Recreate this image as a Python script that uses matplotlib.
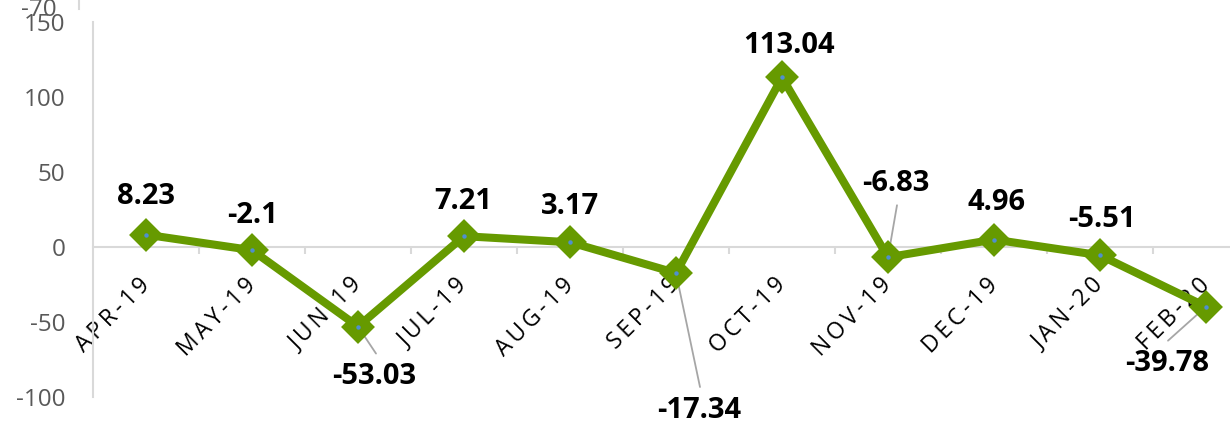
import matplotlib
matplotlib.use("Agg")
import matplotlib.pyplot as plt
from matplotlib.lines import Line2D

months = ["APR-19", "MAY-19", "JUN-19", "JUL-19", "AUG-19", "SEP-19",
          "OCT-19", "NOV-19", "DEC-19", "JAN-20", "FEB-20"]
values = [8.23, -2.1, -53.03, 7.21, 3.17, -17.34, 113.04, -6.83, 4.96, -5.51, -39.78]
value_labels = ["8.23", "-2.1", "-53.03", "7.21", "3.17", "-17.34",
                "113.04", "-6.83", "4.96", "-5.51", "-39.78"]
yticks = [-100, -50, 0, 50, 100, 150]

# label offsets in pixels (text centre relative to point)
label_offsets = [(0, 38), (1, 35), (16, -50), (-1, 35), (0, 36), (23, -137),
                 (7, 32), (8, 74), (2, 37), (2, 36), (-39, -57)]
# leader lines: index -> end offset in pixels
leaders = {2: (18, -27), 5: (24, -114), 7: (9, 52), 10: (-38, -34)}

W, H = 1230, 423
fig = plt.figure(figsize=(W / 100, H / 100), dpi=100)
left = 93 / W
bottom = 1 - 397 / H
width = 11 * 106 / W
height = 375 / H
ax = fig.add_axes([left, bottom, width, height])

x = list(range(len(values)))
green = "#669a00"
ax.plot(x, values, color=green, lw=5.8, marker="D", ms=14, mfc=green, mec=green,
        mew=3, solid_joinstyle="round", zorder=3)
ax.plot(x, values, ls="none", marker="o", ms=2.2, color="#4f8fd0", zorder=4)

ax.set_xlim(-0.5, len(values) - 0.5)
ax.set_ylim(-100, 150)
ax.set_yticks(yticks)
ax.set_yticklabels([str(v) for v in yticks])

for s in ["top", "right"]:
    ax.spines[s].set_visible(False)
ax.spines["bottom"].set_position(("data", 0))
ax.spines["bottom"].set_color("#d9d9d9")
ax.spines["bottom"].set_linewidth(1.5)
ax.spines["left"].set_color("#d9d9d9")
ax.spines["left"].set_linewidth(1.5)

label_font = dict(family=["Open Sans", "DejaVu Sans"])
ax.tick_params(axis="y", length=0, pad=20, labelsize=17.5, labelcolor="#595959")
for t in ax.get_yticklabels():
    t.set_fontfamily(["Open Sans", "DejaVu Sans"])

ax.set_xticks(x)
spaced = ["\u2009".join(list(m)) for m in months]
ax.set_xticklabels(spaced, rotation=45, ha="right", va="center",
                   rotation_mode="anchor", fontsize=16.5, color="#000000")
for t in ax.get_xticklabels():
    t.set_fontfamily(["Open Sans", "DejaVu Sans"])
ax.tick_params(axis="x", which="major", length=0, pad=25)
ax.set_xticks([i + 0.5 for i in x], minor=True)
ax.tick_params(axis="x", which="minor", length=5, width=1.5, color="#d9d9d9", direction="out")

for i, (v, lab) in enumerate(zip(values, value_labels)):
    dx, dy = label_offsets[i]
    ax.annotate(lab, xy=(i, v), xytext=(dx, dy), textcoords="offset pixels",
                ha="center", va="center", fontsize=21, fontweight="bold",
                family=["Open Sans", "DejaVu Sans"], color="#000000", zorder=5,
                annotation_clip=False)
    if i in leaders:
        ex, ey = leaders[i]
        ax.annotate("", xy=(i, v), xytext=(ex, ey), textcoords="offset pixels",
                    arrowprops=dict(arrowstyle="-", color="#a6a6a6", lw=1.3,
                                    shrinkA=0, shrinkB=0), zorder=2,
                    annotation_clip=False)

# remnants of chart above (cut-off)
fig.text(57 / W, 1 - 16 / H, "-70", ha="right", va="baseline", fontsize=17.5,
         color="#595959", family=["Open Sans", "DejaVu Sans"])
fig.add_artist(Line2D([79 / W, 79 / W], [1, 1 - 9 / H], color="#d9d9d9", lw=1.5,
                      transform=fig.transFigure))

fig.savefig("out.png", dpi=100)
